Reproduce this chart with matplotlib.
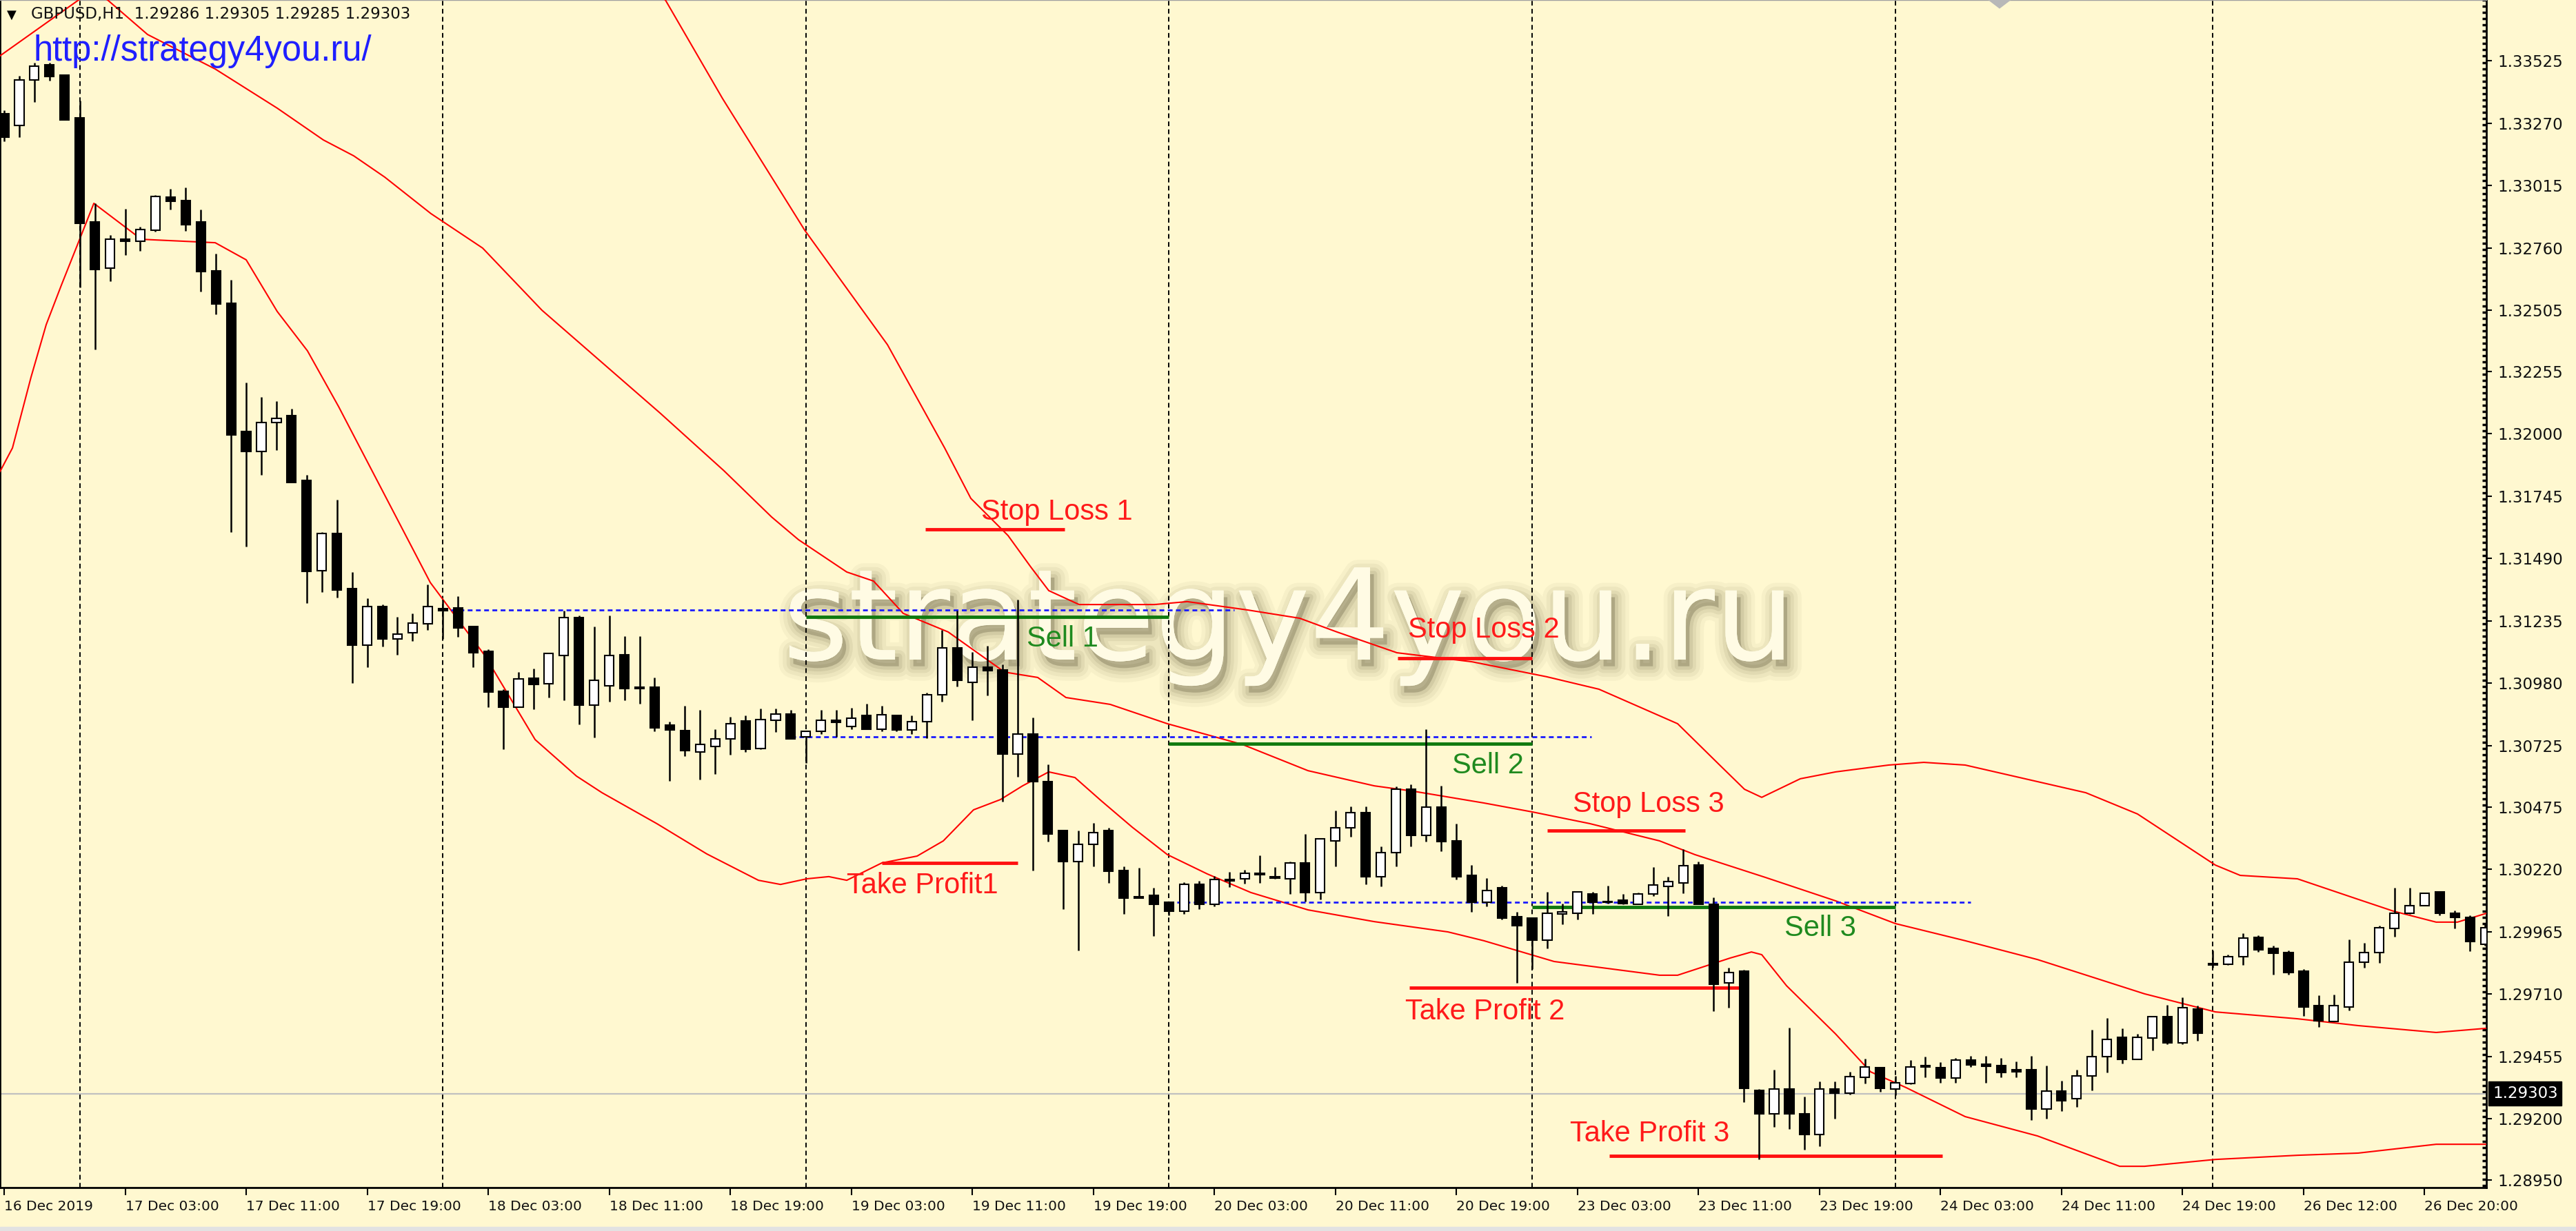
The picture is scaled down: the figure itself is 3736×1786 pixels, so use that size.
import matplotlib
matplotlib.use("Agg")
from matplotlib import pyplot as plt
from matplotlib import patheffects as pe
from matplotlib import font_manager
from matplotlib.ticker import MultipleLocator

# GBPUSD H1 candles (bar 0 = 16 Dec 19:00)
opens = [1.33308, 1.33260, 1.33446, 1.33508, 1.33466, 1.33291, 1.32866, 1.32677, 1.32795, 1.32787,
         1.32832, 1.32967, 1.32953, 1.32866, 1.32666, 1.32533, 1.32009, 1.31928, 1.32046, 1.32074,
         1.31809, 1.31440, 1.31593, 1.31367, 1.31136, 1.31294, 1.31161, 1.31187, 1.31223, 1.31285,
         1.31288, 1.31212, 1.31111, 1.30947, 1.30883, 1.31001, 1.30978, 1.31094, 1.31249, 1.30891,
         1.30970, 1.31097, 1.30964, 1.30964, 1.30809, 1.30787, 1.30699, 1.30722, 1.30753, 1.30826,
         1.30714, 1.30829, 1.30854, 1.30761, 1.30784, 1.30829, 1.30804, 1.30849, 1.30792, 1.30849,
         1.30790, 1.30823, 1.30933, 1.31125, 1.30984, 1.31046, 1.31035, 1.30691, 1.30773, 1.30578,
         1.30378, 1.30252, 1.30322, 1.30378, 1.30215, 1.30108, 1.30113, 1.30085, 1.30049, 1.30158,
         1.30077, 1.30178, 1.30181, 1.30204, 1.30190, 1.30181, 1.30246, 1.30125, 1.30336, 1.30390,
         1.30452, 1.30190, 1.30288, 1.30547, 1.30359, 1.30474, 1.30336, 1.30195, 1.30085, 1.30144,
         1.30026, 1.30021, 1.29930, 1.30037, 1.30040, 1.30119, 1.30088, 1.30094, 1.30077, 1.30119,
         1.30150, 1.30164, 1.30237, 1.30077, 1.29756, 1.29804, 1.29316, 1.29220, 1.29322, 1.29220,
         1.29136, 1.29322, 1.29305, 1.29370, 1.29409, 1.29322, 1.29344, 1.29418, 1.29409, 1.29367,
         1.29440, 1.29423, 1.29418, 1.29401, 1.29401, 1.29240, 1.29313, 1.29282, 1.29375, 1.29454,
         1.29533, 1.29443, 1.29530, 1.29618, 1.29511, 1.29649, 1.29835, 1.29832, 1.29863, 1.29942,
         1.29897, 1.29880, 1.29804, 1.29662, 1.29598, 1.29657, 1.29840, 1.29880, 1.29978, 1.30040,
         1.30071, 1.30128, 1.30040, 1.30023, 1.29913]
highs = [1.33322, 1.33463, 1.33517, 1.33517, 1.33466, 1.33362, 1.32942, 1.32812, 1.32919, 1.32846,
         1.32976, 1.33001, 1.33007, 1.32917, 1.32736, 1.32629, 1.32210, 1.32150, 1.32133, 1.32102,
         1.31832, 1.31598, 1.31731, 1.31435, 1.31328, 1.31302, 1.31252, 1.31266, 1.31384, 1.31322,
         1.31336, 1.31212, 1.31119, 1.30956, 1.31026, 1.31040, 1.31102, 1.31277, 1.31257, 1.31212,
         1.31257, 1.31173, 1.31173, 1.31004, 1.30823, 1.30888, 1.30871, 1.30792, 1.30843, 1.30849,
         1.30877, 1.30877, 1.30871, 1.30784, 1.30871, 1.30871, 1.30880, 1.30897, 1.30888, 1.30849,
         1.30849, 1.30942, 1.31198, 1.31277, 1.31108, 1.31133, 1.31057, 1.31322, 1.30840, 1.30649,
         1.30378, 1.30378, 1.30409, 1.30390, 1.30232, 1.30226, 1.30144, 1.30085, 1.30167, 1.30173,
         1.30192, 1.30209, 1.30218, 1.30277, 1.30229, 1.30252, 1.30364, 1.30345, 1.30460, 1.30477,
         1.30477, 1.30314, 1.30559, 1.30567, 1.30792, 1.30561, 1.30406, 1.30237, 1.30184, 1.30153,
         1.30046, 1.30021, 1.30128, 1.30080, 1.30128, 1.30128, 1.30153, 1.30119, 1.30125, 1.30229,
         1.30190, 1.30302, 1.30252, 1.30105, 1.29818, 1.29810, 1.29322, 1.29401, 1.29573, 1.29291,
         1.29353, 1.29353, 1.29392, 1.29446, 1.29409, 1.29375, 1.29440, 1.29454, 1.29432, 1.29449,
         1.29457, 1.29457, 1.29449, 1.29435, 1.29457, 1.29418, 1.29356, 1.29401, 1.29564, 1.29612,
         1.29570, 1.29547, 1.29618, 1.29666, 1.29697, 1.29663, 1.29888, 1.29871, 1.29958, 1.29950,
         1.29908, 1.29888, 1.29812, 1.29705, 1.29708, 1.29933, 1.29919, 1.29990, 1.30144, 1.30144,
         1.30122, 1.30128, 1.30052, 1.30032, 1.29996]
lows = [1.33195, 1.33212, 1.33356, 1.33443, 1.33283, 1.32598, 1.32345, 1.32624, 1.32731, 1.32748,
        1.32826, 1.32917, 1.32829, 1.32581, 1.32488, 1.31598, 1.31539, 1.31832, 1.31933, 1.31801,
        1.31308, 1.31353, 1.31330, 1.30981, 1.31046, 1.31130, 1.31097, 1.31153, 1.31198, 1.31161,
        1.31170, 1.31046, 1.30883, 1.30711, 1.30883, 1.30874, 1.30922, 1.30911, 1.30812, 1.30759,
        1.30905, 1.30911, 1.30897, 1.30784, 1.30581, 1.30683, 1.30587, 1.30609, 1.30688, 1.30699,
        1.30711, 1.30781, 1.30753, 1.30654, 1.30773, 1.30761, 1.30792, 1.30792, 1.30784, 1.30784,
        1.30773, 1.30756, 1.30905, 1.30967, 1.30829, 1.30930, 1.30497, 1.30598, 1.30215, 1.30333,
        1.30057, 1.29888, 1.30232, 1.30164, 1.30037, 1.30102, 1.29947, 1.30032, 1.30037, 1.30057,
        1.30068, 1.30147, 1.30161, 1.30164, 1.30181, 1.30119, 1.30088, 1.30097, 1.30232, 1.30353,
        1.30158, 1.30150, 1.30232, 1.30314, 1.30333, 1.30294, 1.30178, 1.30046, 1.30068, 1.30015,
        1.29756, 1.29812, 1.29897, 1.29995, 1.30015, 1.30037, 1.30080, 1.30077, 1.30077, 1.30111,
        1.30029, 1.30122, 1.30077, 1.29640, 1.29654, 1.29268, 1.29035, 1.29167, 1.29158, 1.29074,
        1.29088, 1.29201, 1.29299, 1.29344, 1.29311, 1.29296, 1.29341, 1.29370, 1.29347, 1.29347,
        1.29412, 1.29347, 1.29370, 1.29370, 1.29195, 1.29201, 1.29232, 1.29249, 1.29316, 1.29389,
        1.29426, 1.29443, 1.29480, 1.29505, 1.29505, 1.29519, 1.29818, 1.29829, 1.29829, 1.29882,
        1.29789, 1.29789, 1.29620, 1.29575, 1.29598, 1.29643, 1.29818, 1.29837, 1.29944, 1.30037,
        1.30071, 1.30032, 1.29978, 1.29885, 1.29908]
closes = [1.33212, 1.33446, 1.33503, 1.33460, 1.33283, 1.32860, 1.32672, 1.32795, 1.32787, 1.32835,
          1.32970, 1.32950, 1.32855, 1.32663, 1.32531, 1.31995, 1.31928, 1.32046, 1.32063, 1.31801,
          1.31438, 1.31593, 1.31362, 1.31136, 1.31294, 1.31161, 1.31181, 1.31226, 1.31294, 1.31277,
          1.31207, 1.31105, 1.30945, 1.30883, 1.30998, 1.30976, 1.31102, 1.31249, 1.30891, 1.30992,
          1.31094, 1.30959, 1.30959, 1.30798, 1.30790, 1.30705, 1.30730, 1.30753, 1.30815, 1.30711,
          1.30832, 1.30854, 1.30753, 1.30784, 1.30829, 1.30821, 1.30838, 1.30792, 1.30852, 1.30790,
          1.30823, 1.30933, 1.31125, 1.30992, 1.31046, 1.31032, 1.30691, 1.30773, 1.30578, 1.30364,
          1.30252, 1.30322, 1.30370, 1.30212, 1.30102, 1.30102, 1.30077, 1.30049, 1.30158, 1.30077,
          1.30178, 1.30173, 1.30204, 1.30198, 1.30184, 1.30246, 1.30125, 1.30345, 1.30390, 1.30452,
          1.30190, 1.30288, 1.30547, 1.30359, 1.30474, 1.30333, 1.30190, 1.30085, 1.30133, 1.30021,
          1.29990, 1.29930, 1.30040, 1.30046, 1.30128, 1.30085, 1.30085, 1.30080, 1.30119, 1.30156,
          1.30170, 1.30235, 1.30077, 1.29750, 1.29798, 1.29325, 1.29220, 1.29322, 1.29220, 1.29136,
          1.29322, 1.29305, 1.29372, 1.29412, 1.29325, 1.29347, 1.29412, 1.29412, 1.29367, 1.29440,
          1.29420, 1.29415, 1.29389, 1.29392, 1.29240, 1.29313, 1.29274, 1.29375, 1.29454, 1.29525,
          1.29443, 1.29533, 1.29618, 1.29511, 1.29654, 1.29550, 1.29829, 1.29863, 1.29939, 1.29891,
          1.29877, 1.29798, 1.29657, 1.29601, 1.29662, 1.29840, 1.29880, 1.29981, 1.30040, 1.30071,
          1.30122, 1.30040, 1.30023, 1.29925, 1.29982]

# Bollinger bands (bar, price), traced point by point
bb_up_x = [42.5, 43.71, 47.49, 52.92, 58.39, 62.17, 63.90, 66.36, 67.87, 69.05, 71.06, 76.03, 78.21,
           82.18, 85.64, 88.10, 92.07, 97.04, 101.96, 105.42, 110.62, 113.40, 115.04, 116.18, 118.73,
           121.06, 124.57, 126.89, 129.63, 137.60, 141.02, 146.17, 147.81, 151.59, 155.61, 157.93,
           160.76, 162.17, 164.08]
bb_up_y = [1.33820, 1.33773, 1.33370, 1.32832, 1.32364, 1.31942, 1.31736, 1.31584, 1.31455, 1.31359,
           1.31302, 1.31302, 1.31314, 1.31280, 1.31246, 1.31190, 1.31105, 1.31068, 1.31007, 1.30956,
           1.30815, 1.30646, 1.30547, 1.30514, 1.30590, 1.30618, 1.30646, 1.30657, 1.30646, 1.30533,
           1.30446, 1.30237, 1.30195, 1.30181, 1.30097, 1.30049, 1.30004, 1.30004, 1.30040]
bb_mid_x = [-0.27, 4.92, 6.0, 6.84, 9.48, 13.95, 18.05, 21.10, 23.11, 25.16, 28.21, 31.63, 35.55,
            43.39, 47.58, 50.73, 52.51, 55.70, 57.47, 59.43, 62.40, 66.13, 68.32, 70.19, 73.11,
            76.89, 81.86, 86.19, 90.57, 93.16, 97.81, 101.05, 104.79, 109.43, 111.76, 116.41,
            121.06, 125.02, 129.63, 134.41, 141.48, 146.17, 151.59, 155.61, 160.76, 164.08]
bb_mid_y = [1.33545, 1.33773, 1.33800, 1.33773, 1.33632, 1.33491, 1.33331, 1.33201, 1.33136, 1.33049,
            1.32900, 1.32759, 1.32505, 1.32083, 1.31849, 1.31660, 1.31567, 1.31435, 1.31398, 1.31266,
            1.31190, 1.31026, 1.31004, 1.30922, 1.30894, 1.30815, 1.30730, 1.30623, 1.30561, 1.30539,
            1.30491, 1.30454, 1.30407, 1.30336, 1.30280, 1.30187, 1.30091, 1.29998, 1.29928, 1.29851,
            1.29711, 1.29637, 1.29609, 1.29581, 1.29553, 1.29570]
bb_low_x = [-0.27, 0.55, 1.78, 2.78, 3.78, 4.83, 5.93, 9.07, 13.95, 16.00, 18.05, 20.05, 22.11,
            28.17, 31.77, 35.10, 37.83, 39.52, 43.16, 46.44, 49.86, 51.32, 53.05, 54.51, 55.70,
            58.02, 60.35, 62.08, 64.08, 65.86, 67.32, 69.05, 70.78, 72.52, 74.57, 76.89, 79.53,
            82.41, 86.19, 90.57, 95.44, 97.81, 102.46, 109.43, 110.62, 114.08, 115.50, 116.18,
            117.82, 121.06, 123.38, 125.71, 129.63, 134.41, 139.84, 141.48, 146.17, 151.59,
            155.61, 160.76, 164.08]
bb_low_y = [1.31846, 1.31942, 1.32232, 1.32446, 1.32607, 1.32770, 1.32942, 1.32795, 1.32781, 1.32711,
            1.32500, 1.32339, 1.32111, 1.31392, 1.31094, 1.30750, 1.30601, 1.30533, 1.30406, 1.30283,
            1.30175, 1.30158, 1.30181, 1.30190, 1.30175, 1.30246, 1.30274, 1.30336, 1.30463, 1.30505,
            1.30561, 1.30618, 1.30595, 1.30500, 1.30392, 1.30280, 1.30201, 1.30125, 1.30054, 1.30006,
            1.29964, 1.29928, 1.29843, 1.29787, 1.29787, 1.29857, 1.29882, 1.29871, 1.29744, 1.29547,
            1.29392, 1.29328, 1.29209, 1.29130, 1.29006, 1.29006, 1.29034, 1.29051, 1.29060, 1.29096,
            1.29096]

time_labels = ["16 Dec 2019", "17 Dec 03:00", "17 Dec 11:00", "17 Dec 19:00", "18 Dec 03:00",
               "18 Dec 11:00", "18 Dec 19:00", "19 Dec 03:00", "19 Dec 11:00", "19 Dec 19:00",
               "20 Dec 03:00", "20 Dec 11:00", "20 Dec 19:00", "23 Dec 03:00", "23 Dec 11:00",
               "23 Dec 19:00", "24 Dec 03:00", "24 Dec 11:00", "24 Dec 19:00", "26 Dec 12:00",
               "26 Dec 20:00"]
time_ticks = list(range(0, 161, 8))
price_labels = [1.33525, 1.33270, 1.33015, 1.32760, 1.32505, 1.32255, 1.32000, 1.31745, 1.31490,
                1.31235, 1.30980, 1.30725, 1.30475, 1.30220, 1.29965, 1.29710, 1.29455, 1.29200,
                1.28950]
day_starts = [5, 29, 53, 77, 101, 125, 146]
bid = 1.29303

# trade levels: from bar, to bar, price
entry_lines = [(53, 77, 1.31252), (77, 101, 1.30733), (101, 125, 1.30066)]
signal_lines = [(29, 81.3, 1.31280), (52, 104.9, 1.30762), (77, 130, 1.30085)]
stop_lines = [(60.9, 70.1, 1.31609), (92.1, 101.0, 1.31083), (102.0, 111.1, 1.30378)]
target_lines = [(58.0, 67.0, 1.30246), (92.9, 115.1, 1.29736), (106.1, 128.1, 1.29049)]

W, H = 3736, 1786
bg = '#fff8d0'
fig = plt.figure(figsize=(W / 100, H / 100), dpi=100, facecolor=bg)
ax = fig.add_axes([0, 63 / H, 3606 / W, 1723 / H], facecolor=bg)

ax.set_xlim(-0.2735, 164.08)
ax.set_ylim(1.28919, 1.33773)

# watermark, light face with a soft grey shadow
wm = ax.text(51.46, 1.31077, "strategy4you.ru", fontsize=132, family='DejaVu Sans',
             color='#fffbe4', va='baseline', ha='left', zorder=1)
shadow = [pe.Stroke(offset=(4, -7), linewidth=w, foreground='#7d7550', alpha=a)
          for w, a in ((30, 0.06), (22, 0.08), (14, 0.10), (7, 0.14))]
shadow.append(pe.withSimplePatchShadow(offset=(4, -7), shadow_rgbFace='#7d7550', alpha=0.45))
shadow.append(pe.Normal())
wm.set_path_effects(shadow)

for d in day_starts:
    ax.axvline(d, color='black', lw=1.4, ls=(0, (3.5, 2.5)), zorder=2)

ax.axhline(bid, color='#c0c0c0', lw=1.6, zorder=2)

ax.plot(bb_up_x, bb_up_y, color='#ff0000', lw=1.5, zorder=3)
ax.plot(bb_mid_x, bb_mid_y, color='#ff0000', lw=1.5, zorder=3)
ax.plot(bb_low_x, bb_low_y, color='#ff0000', lw=1.5, zorder=3)

for a, b, p in signal_lines:
    ax.plot([a, b], [p, p], color='#1a1aff', lw=2, ls=(0, (2.5, 1.8)), zorder=4)
for a, b, p in entry_lines:
    ax.plot([a, b], [p, p], color='#0f7a0f', lw=3.5, solid_capstyle='butt', zorder=4)
for a, b, p in stop_lines + target_lines:
    ax.plot([a, b], [p, p], color='#ff1010', lw=3.5, solid_capstyle='butt', zorder=4)

# candles
n = len(opens)
xs = list(range(n))
ax.vlines(xs, lows, highs, color='black', lw=1.8, zorder=5)
bottoms = [min(o, c) for o, c in zip(opens, closes)]
heights = [max(abs(c - o), 0.00004) for o, c in zip(opens, closes)]
faces = ['white' if c >= o else 'black' for o, c in zip(opens, closes)]
ax.bar(xs, heights, bottom=bottoms, width=0.6, color=faces, edgecolor='black', lw=1.5, zorder=6)

red = '#ff1a1a'
green = '#1f8a1f'
notes = [("Stop Loss 1", 64.6, 1.31649, red), ("Sell 1", 67.6, 1.31130, green),
         ("Take Profit1", 55.7, 1.30122, red), ("Stop Loss 2", 92.8, 1.31167, red),
         ("Sell 2", 95.7, 1.30612, green), ("Take Profit 2", 92.6, 1.29606, red),
         ("Stop Loss 3", 103.7, 1.30454, red), ("Sell 3", 117.7, 1.29947, green),
         ("Take Profit 3", 103.5, 1.29108, red)]
for txt, x, y, col in notes:
    ax.text(x, y, txt, fontsize=30, family='Liberation Sans', color=col,
            va='baseline', ha='left', zorder=7)

# axes styling
for s in ('left', 'bottom', 'right'):
    ax.spines[s].set_color('black')
    ax.spines[s].set_linewidth(2)
ax.spines['top'].set_color('#a0a0a0')
ax.spines['top'].set_linewidth(1)

narrow = 'Liberation Sans Narrow'
try:
    font_manager.findfont(narrow, fallback_to_default=False)
    xfont, xsize = narrow, 21
except ValueError:
    xfont, xsize = 'DejaVu Sans', 14.5

ax.set_xticks(time_ticks)
ax.set_xticklabels(time_labels, ha='left', fontsize=xsize, family=xfont, color='#111111')
ax.tick_params(axis='x', direction='out', length=8, width=1.5, pad=5)

ax.yaxis.tick_right()
ax.set_yticks(price_labels)
ax.set_yticklabels(["%.5f" % p for p in price_labels], fontsize=16.5, family='DejaVu Sans',
                   color='#111111')
ax.tick_params(axis='y', which='major', direction='out', length=6, width=1.5, pad=6)
ax.yaxis.set_minor_locator(MultipleLocator(0.000255))
ax.tick_params(axis='y', which='minor', direction='in', length=4, width=2.5, right=True, left=False)

ax.annotate("%.5f" % bid, xy=(1.0, bid), xycoords=('axes fraction', 'data'),
            xytext=(9, 0), textcoords='offset pixels', va='center', ha='left',
            fontsize=16.5, family='DejaVu Sans', color='white',
            bbox=dict(boxstyle='square,pad=0.25', fc='black', ec='black'), annotation_clip=False)

# header texts
fig.text(10 / W, 1 - 22 / H, "\u25bc", fontsize=13, family='DejaVu Sans', va='center',
         color='black')
fig.text(45 / W, 1 - 21 / H, "GBPUSD,H1  1.29286 1.29305 1.29285 1.29303", fontsize=16.5,
         family='DejaVu Sans', va='center', color='#111111')
fig.text(49 / W, 1 - 88 / H, "http://strategy4you.ru/", fontsize=36.5, family='Liberation Sans',
         va='baseline', color='#1f1fff')

# little scroll marker and bottom strip
fig.patches.append(plt.Rectangle((0, 0), 1, 6 / H, transform=fig.transFigure,
                                 color='#e2e2e2', zorder=0))
ax.fill([131.2, 131.9, 132.6], [1.33773, 1.33740, 1.33773], color='#b8b8b8',
        clip_on=False, zorder=8)

fig.savefig("out.png", dpi=100, facecolor=bg)
